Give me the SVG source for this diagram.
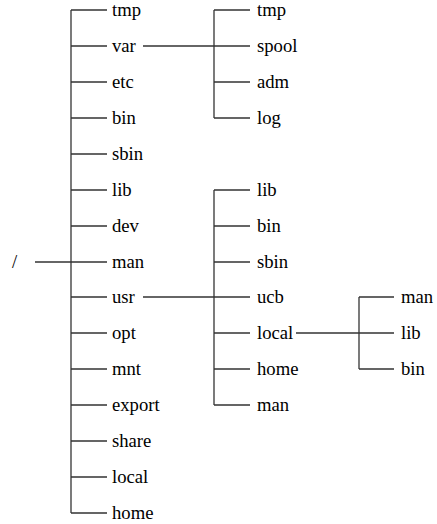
<svg xmlns="http://www.w3.org/2000/svg" width="437" height="524" viewBox="0 0 437 524">
  <rect width="437" height="524" fill="#fff"/>
  <!-- connectors: trunks and branches of the directory tree -->
  <g id="connectors" stroke="#333" stroke-width="1.3" fill="none">
    <!-- root to top-level trunk -->
    <path d="M35 262H71"/>
    <path d="M71 10V513"/>
    <path d="M71 10H107M71 46H107M71 82H107M71 118H107M71 154H107M71 190H107M71 226H107M71 262H107M71 297H107M71 333H107M71 369H107M71 405H107M71 441H107M71 477H107M71 513H107"/>
    <!-- var subtree -->
    <path d="M143 46H214"/>
    <path d="M214 10V118"/>
    <path d="M214 10H250M214 46H250M214 82H250M214 118H250"/>
    <!-- usr subtree -->
    <path d="M143 297H214"/>
    <path d="M214 190V405"/>
    <path d="M214 190H250M214 226H250M214 262H250M214 297H250M214 333H250M214 369H250M214 405H250"/>
    <!-- usr/local subtree -->
    <path d="M296 333H359"/>
    <path d="M359 297V369"/>
    <path d="M359 297H394M359 333H394M359 369H394"/>
  </g>
  <g fill="#000">
    <g id="root"><text x="12" y="268" style="font-family:'Liberation Serif',serif;font-size:18.67px">/</text></g>
    <g id="top">
      <g id="n-tmp"><text x="112" y="16" style="font-family:'Liberation Serif',serif;font-size:18.67px">tmp</text></g>
      <g id="n-var"><text x="112" y="52" style="font-family:'Liberation Serif',serif;font-size:18.67px">var</text></g>
      <g id="n-etc"><text x="112" y="88" style="font-family:'Liberation Serif',serif;font-size:18.67px">etc</text></g>
      <g id="n-bin"><text x="112" y="124" style="font-family:'Liberation Serif',serif;font-size:18.67px">bin</text></g>
      <g id="n-sbin"><text x="112" y="160" style="font-family:'Liberation Serif',serif;font-size:18.67px">sbin</text></g>
      <g id="n-lib"><text x="112" y="196" style="font-family:'Liberation Serif',serif;font-size:18.67px">lib</text></g>
      <g id="n-dev"><text x="112" y="232" style="font-family:'Liberation Serif',serif;font-size:18.67px">dev</text></g>
      <g id="n-man"><text x="112" y="268" style="font-family:'Liberation Serif',serif;font-size:18.67px">man</text></g>
      <g id="n-usr"><text x="112" y="303" style="font-family:'Liberation Serif',serif;font-size:18.67px">usr</text></g>
      <g id="n-opt"><text x="112" y="339" style="font-family:'Liberation Serif',serif;font-size:18.67px">opt</text></g>
      <g id="n-mnt"><text x="112" y="375" style="font-family:'Liberation Serif',serif;font-size:18.67px">mnt</text></g>
      <g id="n-export"><text x="112" y="411" style="font-family:'Liberation Serif',serif;font-size:18.67px">export</text></g>
      <g id="n-share"><text x="112" y="447" style="font-family:'Liberation Serif',serif;font-size:18.67px">share</text></g>
      <g id="n-local"><text x="112" y="483" style="font-family:'Liberation Serif',serif;font-size:18.67px">local</text></g>
      <g id="n-home"><text x="112" y="519" style="font-family:'Liberation Serif',serif;font-size:18.67px">home</text></g>
    </g>
    <g id="var">
      <g id="var-tmp"><text x="257" y="16" style="font-family:'Liberation Serif',serif;font-size:18.67px">tmp</text></g>
      <g id="var-spool"><text x="257" y="52" style="font-family:'Liberation Serif',serif;font-size:18.67px">spool</text></g>
      <g id="var-adm"><text x="257" y="88" style="font-family:'Liberation Serif',serif;font-size:18.67px">adm</text></g>
      <g id="var-log"><text x="257" y="124" style="font-family:'Liberation Serif',serif;font-size:18.67px">log</text></g>
    </g>
    <g id="usr">
      <g id="usr-lib"><text x="257" y="196" style="font-family:'Liberation Serif',serif;font-size:18.67px">lib</text></g>
      <g id="usr-bin"><text x="257" y="232" style="font-family:'Liberation Serif',serif;font-size:18.67px">bin</text></g>
      <g id="usr-sbin"><text x="257" y="268" style="font-family:'Liberation Serif',serif;font-size:18.67px">sbin</text></g>
      <g id="usr-ucb"><text x="257" y="303" style="font-family:'Liberation Serif',serif;font-size:18.67px">ucb</text></g>
      <g id="usr-local"><text x="257" y="339" style="font-family:'Liberation Serif',serif;font-size:18.67px">local</text></g>
      <g id="usr-home"><text x="257" y="375" style="font-family:'Liberation Serif',serif;font-size:18.67px">home</text></g>
      <g id="usr-man"><text x="257" y="411" style="font-family:'Liberation Serif',serif;font-size:18.67px">man</text></g>
    </g>
    <g id="usr-local-sub">
      <g id="ul-man"><text x="401" y="303" style="font-family:'Liberation Serif',serif;font-size:18.67px">man</text></g>
      <g id="ul-lib"><text x="401" y="339" style="font-family:'Liberation Serif',serif;font-size:18.67px">lib</text></g>
      <g id="ul-bin"><text x="401" y="375" style="font-family:'Liberation Serif',serif;font-size:18.67px">bin</text></g>
    </g>
  </g>
</svg>
